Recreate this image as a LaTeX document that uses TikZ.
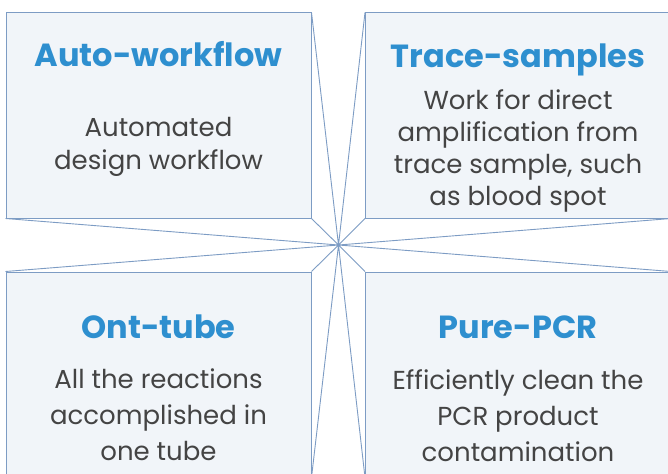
\documentclass[tikz,border=0pt]{standalone}
\usepackage{fontspec}
\setmainfont{Poppins}
\usepackage{tikz}
\usetikzlibrary{positioning}
\definecolor{frameblue}{HTML}{7D9CC4}
\definecolor{panelfill}{HTML}{F1F5F9}
\definecolor{titleblue}{HTML}{2E8FCF}
\definecolor{bodygray}{HTML}{444444}
\tikzset{
    panel/.style={
        draw=frameblue,
        fill=panelfill,
        line width=1pt,
        minimum width=305pt,
        minimum height=205pt,
        inner sep=0pt
    },
    spoke/.style={
        draw=frameblue,
        line width=0.9pt
    },
    heading/.style={
        anchor=base,
        text=titleblue,
        font=\fontsize{32}{38}\selectfont\bfseries,
        inner sep=0pt
    },
    blurb/.style={
        anchor=north,
        align=center,
        text=bodygray,
        inner sep=0pt
    }
}

\begin{document}
\begin{tikzpicture}[x=1pt,y=-1pt]
	\clip (0,0) rectangle (668,473);
	\fill[white] (0,0) rectangle (668,473);
	\coordinate (hub) at (338.5,245);
	\node[panel] at (158.5,115.5) (auto) {};
	\node[panel] at (518,115.5) (trace) {};
	\node[panel] at (158.5,374.5) (tube) {};
	\node[panel] at (518,374.5) (pure) {};
	\draw[spoke]
	(auto.north east) -- (hub)
	(auto.south east) -- (hub)
	(auto.south west) -- (hub)
	(trace.north west) -- (hub)
	(trace.south west) -- (hub)
	(trace.south east) -- (hub)
	(tube.north west) -- (hub)
	(tube.north east) -- (hub)
	(tube.south east) -- (hub)
	(pure.north west) -- (hub)
	(pure.north east) -- (hub)
	(pure.south west) -- (hub);
	\node[heading] at (158.5,67) (autotitle) {Auto-workflow};
	\node[heading] at (518,68) (tracetitle) {Trace-samples};
	\node[heading] at (158.5,338) (tubetitle) {Ont-tube};
	\node[heading] at (518,338) (puretitle) {Pure-PCR};
	\node[blurb,font=\fontsize{26}{33}\selectfont] at (158.5,117) (autotext)
		{Automated\\design workflow};
	\node[blurb,font=\fontsize{26}{32}\selectfont] at (518,89) (tracetext)
		{Work for direct\\amplification from\\trace sample, such\\as blood spot};
	\node[blurb,font=\fontsize{26}{36}\selectfont] at (158.5,369) (tubetext)
		{All the reactions\\accomplished in\\one tube};
	\node[blurb,font=\fontsize{26}{36}\selectfont] at (518,369) (puretext)
		{Efficiently clean the\\PCR product\\contamination};
\end{tikzpicture}
\end{document}
